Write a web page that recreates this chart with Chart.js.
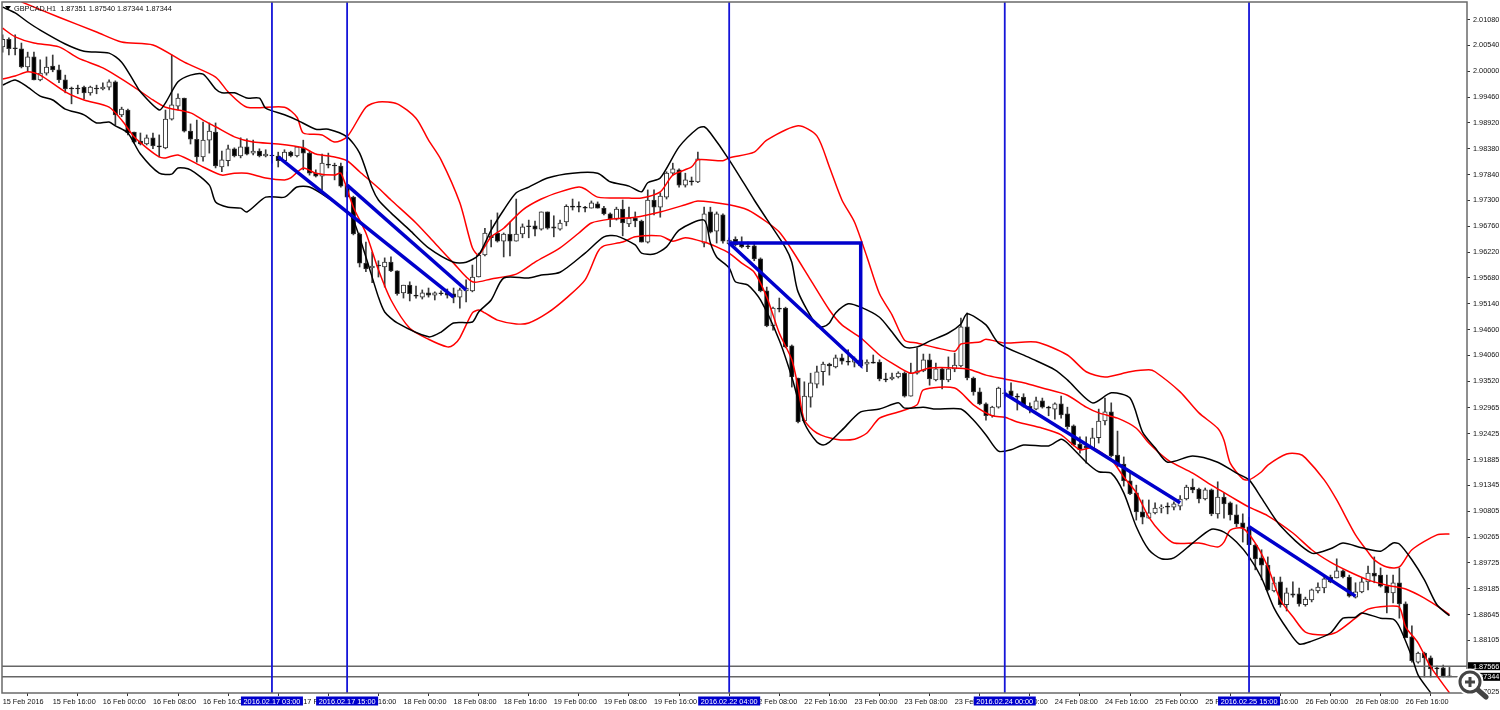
<!DOCTYPE html>
<html>
<head>
<meta charset="utf-8">
<title>GBPCAD,H1</title>
<style>
html, body { margin: 0; padding: 0; background: #fff; overflow: hidden; }
#wrap { position: relative; width: 1500px; height: 710px; }
#zoomIcon { position: absolute; left: 1450px; top: 660px; }
</style>
<script src="https://cdn.jsdelivr.net/npm/chart.js@4"></script>
</head>
<body>
<div id="wrap">
<canvas id="myChart" width="1500" height="710"></canvas>
<svg id="zoomIcon" width="40" height="40" viewBox="0 0 40 40">
  <line x1="28" y1="30" x2="36" y2="37" stroke="#fff" stroke-width="8" stroke-linecap="round"/>
  <circle cx="20" cy="22" r="11" fill="#fff" stroke="#fff" stroke-width="5"/>
  <line x1="28" y1="30" x2="36" y2="37" stroke="#444" stroke-width="5" stroke-linecap="round"/>
  <circle cx="20" cy="22" r="10" fill="#fff" stroke="#444" stroke-width="3"/>
  <line x1="15" y1="22" x2="25" y2="22" stroke="#444" stroke-width="3"/>
  <line x1="20" y1="17" x2="20" y2="27" stroke="#444" stroke-width="3"/>
</svg>
</div>
<script>
'use strict';
let titleText = 'GBPCAD,H1  1.87351 1.87540 1.87344 1.87344';

// hourly candles, one per bar, index 0 = first bar on the left
let opens = [2.0051,2.0067,2.0049,2.0047,2.0009,2.0030,1.9982,1.9996,2.0011,2.0003,1.9982,1.9965,1.9965,1.9967,1.9955,1.9965,1.9963,1.9967,1.9978,1.9909,1.9919,1.9873,1.9854,1.9848,1.9861,1.9844,1.9840,1.9900,1.9927,1.9944,1.9875,1.9858,1.9821,1.9856,1.9873,1.9800,1.9813,1.9838,1.9823,1.9842,1.9829,1.9833,1.9823,1.9825,1.9823,1.9813,1.9831,1.9823,1.9840,1.9829,1.9787,1.9781,1.9806,1.9804,1.9802,1.9762,1.9737,1.9660,1.9599,1.9589,1.9595,1.9591,1.9601,1.9583,1.9537,1.9553,1.9532,1.9528,1.9537,1.9532,1.9537,1.9537,1.9535,1.9528,1.9541,1.9541,1.9570,1.9616,1.9656,1.9662,1.9645,1.9660,1.9645,1.9660,1.9677,1.9677,1.9670,1.9706,1.9675,1.9670,1.9685,1.9718,1.9718,1.9716,1.9714,1.9723,1.9714,1.9702,1.9691,1.9712,1.9681,1.9693,1.9687,1.9643,1.9731,1.9716,1.9737,1.9787,1.9794,1.9762,1.9771,1.9769,1.9641,1.9706,1.9666,1.9700,1.9639,1.9649,1.9641,1.9635,1.9635,1.9608,1.9541,1.9468,1.9505,1.9505,1.9426,1.9359,1.9269,1.9319,1.9346,1.9372,1.9388,1.9382,1.9401,1.9394,1.9392,1.9397,1.9388,1.9392,1.9392,1.9357,1.9357,1.9361,1.9369,1.9321,1.9369,1.9374,1.9397,1.9355,1.9378,1.9355,1.9378,1.9384,1.9466,1.9359,1.9330,1.9305,1.9280,1.9298,1.9326,1.9332,1.9321,1.9319,1.9300,1.9294,1.9311,1.9298,1.9294,1.9305,1.9284,1.9259,1.9221,1.9217,1.9213,1.9234,1.9269,1.9288,1.9198,1.9179,1.9144,1.9119,1.9079,1.9066,1.9077,1.9087,1.9091,1.9089,1.9091,1.9106,1.9131,1.9127,1.9106,1.9125,1.9075,1.9110,1.9098,1.9073,1.9056,1.9048,1.9010,1.8983,1.8968,1.8914,1.8933,1.8885,1.8908,1.8908,1.8885,1.8895,1.8914,1.8920,1.8943,1.8941,1.8956,1.8943,1.8901,1.8912,1.8933,1.8951,1.8947,1.8924,1.8910,1.8931,1.8887,1.8818,1.8765,1.8784,1.8774,1.8753,1.8753,1.87351];
let highs = [2.0076,2.0070,2.0076,2.0059,2.0040,2.0040,2.0024,2.0030,2.0034,2.0013,1.9992,1.9967,1.9971,1.9969,1.9969,1.9971,1.9976,1.9982,1.9980,1.9925,1.9921,1.9873,1.9871,1.9867,1.9871,1.9867,1.9919,2.0034,1.9953,1.9944,1.9890,1.9898,1.9894,1.9892,1.9892,1.9833,1.9846,1.9840,1.9861,1.9859,1.9856,1.9838,1.9836,1.9850,1.9831,1.9836,1.9833,1.9842,1.9856,1.9833,1.9794,1.9827,1.9829,1.9808,1.9808,1.9790,1.9739,1.9662,1.9643,1.9622,1.9604,1.9610,1.9612,1.9583,1.9553,1.9560,1.9551,1.9543,1.9547,1.9539,1.9541,1.9545,1.9547,1.9547,1.9564,1.9595,1.9620,1.9672,1.9689,1.9704,1.9662,1.9685,1.9733,1.9681,1.9689,1.9687,1.9706,1.9706,1.9698,1.9689,1.9721,1.9733,1.9727,1.9718,1.9729,1.9727,1.9718,1.9704,1.9716,1.9731,1.9716,1.9706,1.9689,1.9752,1.9752,1.9746,1.9790,1.9808,1.9796,1.9787,1.9779,1.9831,1.9716,1.9716,1.9706,1.9702,1.9652,1.9654,1.9654,1.9643,1.9643,1.9610,1.9549,1.9507,1.9526,1.9507,1.9428,1.9359,1.9351,1.9369,1.9384,1.9392,1.9390,1.9407,1.9409,1.9418,1.9403,1.9409,1.9397,1.9407,1.9397,1.9369,1.9369,1.9372,1.9372,1.9390,1.9422,1.9409,1.9409,1.9390,1.9380,1.9403,1.9411,1.9484,1.9495,1.9361,1.9338,1.9307,1.9300,1.9340,1.9334,1.9349,1.9326,1.9326,1.9307,1.9319,1.9317,1.9300,1.9307,1.9321,1.9298,1.9261,1.9236,1.9236,1.9254,1.9294,1.9317,1.9307,1.9248,1.9194,1.9163,1.9135,1.9104,1.9104,1.9098,1.9094,1.9098,1.9100,1.9113,1.9135,1.9148,1.9129,1.9129,1.9127,1.9142,1.9119,1.9100,1.9094,1.9075,1.9068,1.9012,1.9000,1.8985,1.8943,1.8943,1.8920,1.8933,1.8920,1.8901,1.8918,1.8931,1.8945,1.8947,1.8981,1.8958,1.8947,1.8931,1.8941,1.8966,1.8985,1.8962,1.8947,1.8947,1.8962,1.8891,1.8841,1.8786,1.8786,1.8778,1.8757,1.8759,1.87540];
let lows = [2.0040,2.0034,2.0034,2.0007,1.9999,1.9982,1.9980,1.9992,1.9999,1.9976,1.9955,1.9932,1.9953,1.9942,1.9950,1.9953,1.9961,1.9961,1.9888,1.9905,1.9867,1.9850,1.9846,1.9846,1.9838,1.9821,1.9838,1.9898,1.9919,1.9873,1.9848,1.9810,1.9812,1.9829,1.9798,1.9790,1.9802,1.9821,1.9819,1.9825,1.9825,1.9821,1.9821,1.9808,1.9800,1.9810,1.9821,1.9821,1.9794,1.9783,1.9779,1.9752,1.9798,1.9773,1.9758,1.9737,1.9658,1.9591,1.9581,1.9558,1.9570,1.9549,1.9581,1.9532,1.9526,1.9520,1.9526,1.9524,1.9528,1.9522,1.9532,1.9526,1.9516,1.9505,1.9518,1.9539,1.9570,1.9614,1.9633,1.9643,1.9612,1.9614,1.9645,1.9652,1.9652,1.9656,1.9668,1.9670,1.9654,1.9668,1.9677,1.9710,1.9706,1.9706,1.9714,1.9714,1.9700,1.9675,1.9689,1.9656,1.9675,1.9675,1.9643,1.9641,1.9700,1.9695,1.9733,1.9783,1.9758,1.9758,1.9762,1.9767,1.9633,1.9662,1.9641,1.9641,1.9637,1.9635,1.9631,1.9629,1.9604,1.9539,1.9466,1.9459,1.9497,1.9422,1.9340,1.9265,1.9267,1.9298,1.9338,1.9344,1.9365,1.9380,1.9388,1.9386,1.9382,1.9382,1.9372,1.9390,1.9353,1.9351,1.9355,1.9359,1.9319,1.9321,1.9367,1.9372,1.9344,1.9353,1.9336,1.9351,1.9372,1.9382,1.9355,1.9323,1.9303,1.9271,1.9277,1.9296,1.9317,1.9317,1.9292,1.9298,1.9286,1.9292,1.9296,1.9280,1.9273,1.9275,1.9252,1.9217,1.9202,1.9181,1.9211,1.9223,1.9261,1.9194,1.9173,1.9133,1.9115,1.9062,1.9054,1.9066,1.9075,1.9077,1.9075,1.9083,1.9083,1.9104,1.9119,1.9098,1.9104,1.9071,1.9066,1.9066,1.9062,1.9048,1.9016,1.8979,1.8958,1.8937,1.8914,1.8912,1.8880,1.8872,1.8901,1.8882,1.8882,1.8891,1.8910,1.8910,1.8931,1.8941,1.8941,1.8901,1.8899,1.8910,1.8916,1.8931,1.8922,1.8868,1.8889,1.8857,1.8816,1.8765,1.8763,1.8734,1.8734,1.8736,1.8734,1.87344];
let closes = [2.0067,2.0047,2.0047,2.0009,2.0030,1.9982,1.9996,2.0009,2.0003,1.9982,1.9963,1.9963,1.9963,1.9955,1.9967,1.9963,1.9967,1.9978,1.9909,1.9921,1.9871,1.9852,1.9848,1.9861,1.9844,1.9842,1.9900,1.9930,1.9944,1.9875,1.9858,1.9821,1.9856,1.9875,1.9802,1.9815,1.9838,1.9823,1.9842,1.9827,1.9833,1.9823,1.9827,1.9823,1.9813,1.9831,1.9823,1.9842,1.9829,1.9787,1.9781,1.9808,1.9804,1.9802,1.9760,1.9737,1.9660,1.9599,1.9587,1.9593,1.9593,1.9601,1.9583,1.9535,1.9553,1.9535,1.9530,1.9537,1.9532,1.9537,1.9535,1.9532,1.9528,1.9543,1.9547,1.9570,1.9616,1.9662,1.9652,1.9645,1.9660,1.9645,1.9660,1.9675,1.9675,1.9670,1.9706,1.9672,1.9672,1.9683,1.9718,1.9716,1.9716,1.9714,1.9725,1.9714,1.9702,1.9691,1.9712,1.9683,1.9693,1.9687,1.9643,1.9731,1.9716,1.9739,1.9787,1.9796,1.9762,1.9773,1.9769,1.9817,1.9702,1.9664,1.9702,1.9645,1.9647,1.9637,1.9633,1.9633,1.9608,1.9541,1.9468,1.9505,1.9503,1.9424,1.9361,1.9267,1.9321,1.9349,1.9372,1.9388,1.9384,1.9401,1.9394,1.9392,1.9399,1.9384,1.9392,1.9390,1.9357,1.9355,1.9361,1.9369,1.9321,1.9369,1.9374,1.9397,1.9357,1.9378,1.9355,1.9378,1.9386,1.9466,1.9359,1.9330,1.9305,1.9280,1.9298,1.9338,1.9328,1.9321,1.9319,1.9300,1.9294,1.9311,1.9298,1.9296,1.9305,1.9282,1.9257,1.9219,1.9209,1.9213,1.9234,1.9269,1.9288,1.9196,1.9177,1.9144,1.9117,1.9079,1.9068,1.9077,1.9087,1.9089,1.9089,1.9096,1.9106,1.9131,1.9125,1.9106,1.9125,1.9075,1.9110,1.9096,1.9073,1.9054,1.9045,1.9010,1.8981,1.8968,1.8916,1.8931,1.8885,1.8910,1.8905,1.8887,1.8897,1.8916,1.8922,1.8939,1.8933,1.8956,1.8943,1.8903,1.8912,1.8933,1.8951,1.8945,1.8924,1.8910,1.8931,1.8887,1.8816,1.8768,1.8784,1.8774,1.8751,1.8751,1.8736,1.87344];

// bollinger bands, read at the bars where the curve bends
let blackUpIdx = [0,2,4,6,10,13,17,19,21,22,25,26,28,30,32,34,35,37,39,41,42,45,47,50,52,55,57,59,60,62,65,68,72,74,76,78,80,82,84,87,91,95,97,100,102,103,105,108,111,112,113,116,120,122,125,126,127,130,131,132,133,135,137,140,142,144,146,148,151,153,154,157,159,164,168,170,174,177,180,182,184,186,190,194,197,199,201,204,209,212,214,217,220,222,223,225,227,229,231];
let blackUp = [2.0134,2.0122,2.0103,2.0086,2.0057,2.0042,2.0038,2.0019,1.9978,1.9957,1.9919,1.9934,1.9978,1.9992,1.9994,1.9963,1.9955,1.9955,1.9944,1.9944,1.9923,1.9909,1.9898,1.9879,1.9879,1.9863,1.9829,1.9756,1.9731,1.9704,1.9668,1.9631,1.9601,1.9601,1.9616,1.9668,1.9710,1.9746,1.9758,1.9777,1.9787,1.9787,1.9769,1.9760,1.9748,1.9767,1.9777,1.9842,1.9881,1.9884,1.9871,1.9815,1.9731,1.9691,1.9631,1.9601,1.9539,1.9468,1.9466,1.9474,1.9495,1.9514,1.9507,1.9486,1.9455,1.9424,1.9424,1.9436,1.9453,1.9472,1.9493,1.9470,1.9432,1.9401,1.9376,1.9355,1.9307,1.9328,1.9317,1.9246,1.9213,1.9183,1.9196,1.9183,1.9160,1.9146,1.9108,1.9050,1.8993,1.9002,1.9014,1.9004,1.8997,1.9014,1.9012,1.8979,1.8937,1.8885,1.8862];
let blackLowIdx = [0,2,4,6,8,10,13,15,17,18,20,22,25,27,28,30,33,34,36,38,39,42,45,47,49,52,55,56,58,60,61,63,68,70,72,75,76,78,80,84,86,89,93,96,98,101,102,104,106,108,112,113,114,116,117,119,121,124,126,127,128,130,131,132,134,137,140,143,144,147,149,153,155,157,159,161,163,167,169,170,173,175,177,179,181,183,185,187,190,193,195,197,199,201,203,205,207,209,212,214,216,217,220,222,223,225,226,228];
let blackLow = [1.9971,1.9982,1.9967,1.9948,1.9940,1.9921,1.9909,1.9892,1.9894,1.9886,1.9871,1.9827,1.9787,1.9785,1.9798,1.9794,1.9762,1.9727,1.9716,1.9714,1.9706,1.9737,1.9737,1.9758,1.9758,1.9735,1.9706,1.9689,1.9612,1.9528,1.9497,1.9474,1.9445,1.9455,1.9474,1.9476,1.9497,1.9522,1.9568,1.9568,1.9574,1.9580,1.9620,1.9654,1.9656,1.9637,1.9620,1.9618,1.9633,1.9668,1.9689,1.9641,1.9612,1.9589,1.9560,1.9553,1.9522,1.9438,1.9361,1.9313,1.9265,1.9225,1.9219,1.9225,1.9250,1.9288,1.9294,1.9307,1.9296,1.9298,1.9294,1.9294,1.9271,1.9240,1.9206,1.9209,1.9219,1.9217,1.9231,1.9223,1.9183,1.9163,1.9160,1.9119,1.9048,1.9000,1.8981,1.8983,1.9014,1.9043,1.9037,1.9016,1.8985,1.8941,1.8878,1.8836,1.8803,1.8809,1.8826,1.8857,1.8859,1.8868,1.8857,1.8855,1.8839,1.8776,1.8738,1.8701];
let redUpIdx = [3,9,15,19,24,29,34,36,39,45,47,48,51,53,55,58,60,63,66,68,70,73,75,76,78,80,83,86,89,92,93,95,100,102,105,107,110,111,115,116,120,122,127,130,132,134,136,138,140,142,144,146,152,153,156,157,160,165,170,173,176,180,183,184,188,191,194,195,196,198,199,201,202,205,207,208,211,213,216,218,219,221,223,225,229,231];
let redUp = [2.0145,2.0113,2.0082,2.0061,2.0055,2.0019,1.9988,1.9957,1.9925,1.9925,1.9904,1.9871,1.9867,1.9852,1.9863,1.9925,1.9936,1.9932,1.9902,1.9856,1.9815,1.9725,1.9631,1.9616,1.9654,1.9672,1.9710,1.9733,1.9748,1.9758,1.9754,1.9737,1.9735,1.9735,1.9748,1.9783,1.9800,1.9815,1.9813,1.9819,1.9831,1.9856,1.9886,1.9865,1.9800,1.9731,1.9685,1.9612,1.9535,1.9491,1.9438,1.9432,1.9415,1.9430,1.9434,1.9440,1.9432,1.9434,1.9407,1.9372,1.9361,1.9372,1.9376,1.9372,1.9330,1.9286,1.9254,1.9229,1.9181,1.9148,1.9146,1.9163,1.9177,1.9200,1.9200,1.9192,1.9146,1.9104,1.9031,1.8995,1.8979,1.8964,1.8964,1.9000,1.9031,1.9033];
let redMidIdx = [0,2,5,9,12,16,18,21,24,26,30,32,34,37,40,44,48,50,53,55,57,60,62,66,69,72,75,78,82,85,89,92,94,97,101,105,109,111,116,119,122,124,126,129,132,134,137,140,142,145,148,154,157,160,163,166,170,173,175,178,181,183,186,190,193,197,199,202,206,209,212,215,218,221,224,227,230,231];
let redMid = [2.0090,2.0072,2.0059,2.0051,2.0028,2.0007,1.9992,1.9967,1.9940,1.9925,1.9913,1.9898,1.9884,1.9863,1.9852,1.9848,1.9840,1.9827,1.9821,1.9813,1.9790,1.9756,1.9731,1.9683,1.9641,1.9599,1.9560,1.9566,1.9576,1.9601,1.9631,1.9662,1.9683,1.9691,1.9695,1.9706,1.9721,1.9729,1.9721,1.9710,1.9685,1.9664,1.9627,1.9564,1.9501,1.9470,1.9443,1.9407,1.9390,1.9369,1.9380,1.9378,1.9365,1.9357,1.9349,1.9338,1.9323,1.9298,1.9286,1.9275,1.9254,1.9223,1.9188,1.9160,1.9135,1.9104,1.9089,1.9071,1.9035,1.9000,1.8974,1.8954,1.8937,1.8926,1.8918,1.8899,1.8874,1.8864];
let redLowIdx = [0,2,4,6,10,13,17,19,21,23,25,26,28,32,35,37,39,42,45,46,48,50,53,54,56,58,60,62,65,68,71,72,73,75,76,77,79,82,84,87,90,93,95,96,99,101,105,107,109,112,114,116,118,120,122,124,126,127,128,130,133,136,138,140,143,146,147,152,155,158,160,162,166,169,172,174,177,179,181,183,185,187,191,194,195,196,198,200,202,204,206,208,211,213,216,218,221,223,224,226,228,231];
let redLow = [1.9984,1.9990,1.9999,1.9992,1.9957,1.9940,1.9925,1.9898,1.9863,1.9840,1.9821,1.9819,1.9825,1.9800,1.9783,1.9787,1.9787,1.9777,1.9773,1.9777,1.9798,1.9787,1.9783,1.9787,1.9716,1.9662,1.9585,1.9522,1.9463,1.9440,1.9424,1.9428,1.9443,1.9495,1.9501,1.9495,1.9480,1.9472,1.9474,1.9495,1.9526,1.9564,1.9622,1.9635,1.9643,1.9654,1.9656,1.9645,1.9652,1.9643,1.9633,1.9620,1.9599,1.9580,1.9528,1.9453,1.9397,1.9340,1.9271,1.9244,1.9231,1.9231,1.9244,1.9275,1.9288,1.9303,1.9334,1.9338,1.9303,1.9280,1.9277,1.9267,1.9254,1.9240,1.9209,1.9213,1.9188,1.9152,1.9119,1.9068,1.9035,1.9014,1.9014,1.9006,1.9016,1.9041,1.9045,1.9014,1.8964,1.8895,1.8860,1.8828,1.8822,1.8828,1.8857,1.8876,1.8882,1.8880,1.8839,1.8805,1.8755,1.8701];

// blue trend lines drawn on the chart
let trendIdx = [[44,72],[55,74],[116,137,137,116],[160,188],[199,216]];
let trendPrices = [[1.9821,1.9528],[1.9762,1.9543],[1.9641,1.9641,1.9386,1.9641],[1.9326,1.9098],[1.9048,1.8903]];

// vertical lines and their date tags
let vLineIdx = [43,55,116,160,199];
let vLineTags = ['2016.02.17 03:00','2016.02.17 15:00','2016.02.22 04:00','2016.02.24 00:00','2016.02.25 15:00'];

// horizontal price lines with the tags on the right axis
let priceLines = [1.87566,1.87344];

let xTickIdx = [0,8,16,24,32,40,48,56,64,72,80,88,96,104,112,120,128,136,144,152,160,168,176,184,192,200,208,216,224];
let xTickLabels = ['15 Feb 2016','15 Feb 16:00','16 Feb 00:00','16 Feb 08:00','16 Feb 16:00','17 Feb 00:00','17 Feb 08:00','17 Feb 16:00','18 Feb 00:00','18 Feb 08:00','18 Feb 16:00','19 Feb 00:00','19 Feb 08:00','19 Feb 16:00','22 Feb 00:00','22 Feb 08:00','22 Feb 16:00','23 Feb 00:00','23 Feb 08:00','23 Feb 16:00','24 Feb 00:00','24 Feb 08:00','24 Feb 16:00','25 Feb 00:00','25 Feb 08:00','25 Feb 16:00','26 Feb 00:00','26 Feb 08:00','26 Feb 16:00'];
let yTicks = [2.01080,2.00540,2.00000,1.99460,1.98920,1.98380,1.97840,1.97300,1.96760,1.96220,1.95680,1.95140,1.94600,1.94060,1.93520,1.92965,1.92425,1.91885,1.91345,1.90805,1.90265,1.89725,1.89185,1.88645,1.88105,1.87025];

let xMin = -0.1;
let xMax = 233.8;
let yMin = 1.87006;
let yMax = 2.01448;

let labelFont = '7.3px "Liberation Sans", sans-serif';

function lineData(xs, ys){
    return xs.map(function(x, i){ return {x: x, y: ys[i]}; });
}

function lineSet(xs, ys, color, width, order){
    return {
        type: 'line',
        data: lineData(xs, ys),
        borderColor: color,
        borderWidth: width,
        pointRadius: 0,
        tension: 0,
        order: order
    };
}

function bandSet(xs, ys, color){
    let set = lineSet(xs, ys, color, 1.5, 3);
    set.tension = 0.25;
    return set;
}

let wicks = highs.map(function(h, i){ return {x: i, y: [lows[i], h]}; });
let bodies = opens.map(function(o, i){ return {x: i, y: [Math.min(o, closes[i]), Math.max(o, closes[i])]}; });
let bodyColors = opens.map(function(o, i){ return closes[i] >= o ? '#ffffff' : '#000000'; });

let datasets = [
    {type: 'bar', data: wicks, backgroundColor: '#3a3a3a', barThickness: 1, grouped: false, order: 6},
    {type: 'bar', data: bodies, backgroundColor: bodyColors, borderColor: '#333333', borderWidth: 1, borderSkipped: false, barThickness: 4.5, minBarLength: 1, grouped: false, order: 5},
    bandSet(blackUpIdx, blackUp, '#000000'),
    bandSet(blackLowIdx, blackLow, '#000000'),
    bandSet(redUpIdx, redUp, '#ff0000'),
    bandSet(redMidIdx, redMid, '#ff0000'),
    bandSet(redLowIdx, redLow, '#ff0000')
];

for(let i = 0; i < trendIdx.length; i++){
    datasets.push(lineSet(trendIdx[i], trendPrices[i], '#0000cc', 3.5, 1));
}
for(let i = 0; i < vLineIdx.length; i++){
    datasets.push(lineSet([vLineIdx[i], vLineIdx[i]], [yMin, yMax], '#1414d8', 1.8, 2));
}
for(let i = 0; i < priceLines.length; i++){
    datasets.push(lineSet([xMin, xMax], [priceLines[i], priceLines[i]], '#666666', 1.5, 4));
}

// frame, title and the tags that sit on top of the axes
let overlayPlugin = {
    id: 'overlay',
    afterDraw: function(chart){
        let ctx = chart.ctx;
        let area = chart.chartArea;
        let xScale = chart.scales.x;
        let yScale = chart.scales.y;
        ctx.save();
        ctx.strokeStyle = '#6a6a6a';
        ctx.lineWidth = 1.5;
        ctx.strokeRect(area.left, area.top, area.right - area.left, area.bottom - area.top);

        ctx.fillStyle = '#000000';
        ctx.beginPath();
        ctx.moveTo(5, 6);
        ctx.lineTo(11, 6);
        ctx.lineTo(8, 10);
        ctx.closePath();
        ctx.fill();

        ctx.font = labelFont;
        ctx.textBaseline = 'middle';
        ctx.textAlign = 'left';
        ctx.fillStyle = '#111111';
        ctx.fillText(titleText, 14, 8.5);

        ctx.textAlign = 'center';
        for(let i = 0; i < vLineIdx.length; i++){
            let px = xScale.getPixelForValue(vLineIdx[i]);
            ctx.fillStyle = '#0000cc';
            ctx.fillRect(px - 31, 696.5, 62, 9);
            ctx.fillStyle = '#ffffff';
            ctx.fillText(vLineTags[i], px, 701.5);
        }

        ctx.textAlign = 'left';
        for(let i = 0; i < priceLines.length; i++){
            let py = yScale.getPixelForValue(priceLines[i]);
            ctx.fillStyle = '#000000';
            ctx.fillRect(area.right + 1, py - 4, 32, 8);
            ctx.fillStyle = '#ffffff';
            ctx.fillText(priceLines[i].toFixed(5), area.right + 6, py + 0.5);
        }
        ctx.restore();
    }
};

let ctx = document.getElementById('myChart').getContext('2d');
let myChart = new Chart(ctx, {
    type: 'bar',
    data: {datasets: datasets},
    plugins: [overlayPlugin],
    options: {
        responsive: false,
        animation: false,
        layout: {padding: {left: 2, top: 2, right: 0, bottom: 0}},
        plugins: {legend: {display: false}, tooltip: {enabled: false}, title: {display: false}},
        scales: {
            x: {
                type: 'linear',
                min: xMin,
                max: xMax,
                offset: false,
                border: {display: false},
                grid: {display: true, drawOnChartArea: false, drawTicks: true, tickLength: 3, color: '#333333'},
                afterFit: function(axis){
                    axis.height = 17;
                    axis.paddingLeft = 0;
                    axis.paddingRight = 0;
                },
                afterBuildTicks: function(axis){
                    axis.ticks = xTickIdx.map(function(v){ return {value: v}; });
                },
                ticks: {
                    autoSkip: false,
                    maxRotation: 0,
                    minRotation: 0,
                    align: 'start',
                    padding: 2,
                    color: '#111111',
                    font: {family: '"Liberation Sans", sans-serif', size: 7.3},
                    callback: function(value){ return xTickLabels[xTickIdx.indexOf(value)]; }
                }
            },
            y: {
                type: 'linear',
                position: 'right',
                min: yMin,
                max: yMax,
                border: {display: false},
                grid: {display: true, drawOnChartArea: false, drawTicks: true, tickLength: 3, color: '#333333'},
                afterFit: function(axis){
                    axis.width = 33;
                    axis.paddingTop = 0;
                    axis.paddingBottom = 0;
                },
                afterBuildTicks: function(axis){
                    axis.ticks = yTicks.map(function(v){ return {value: v}; });
                },
                ticks: {
                    autoSkip: false,
                    padding: 3,
                    color: '#111111',
                    font: {family: '"Liberation Sans", sans-serif', size: 7.3},
                    callback: function(value){ return value.toFixed(5); }
                }
            }
        }
    }
});
</script>
</body>
</html>
